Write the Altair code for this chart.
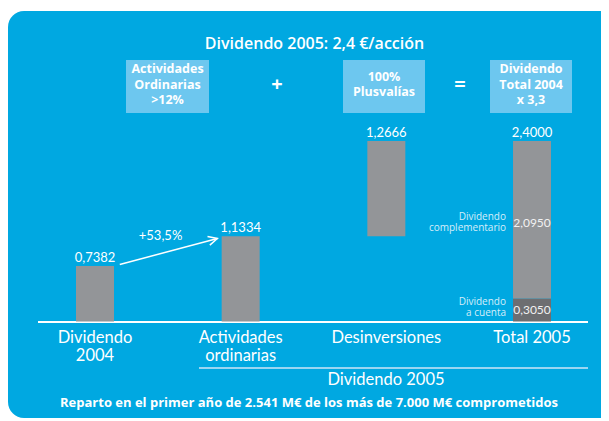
import math
import altair as alt
import pandas as pd

# ---------------- data ----------------
categories = ["Dividendo\n2004", "Actividades\nordinarias", "Desinversiones", "Total 2005"]
values = [0.7382, 1.1334, 1.2666, 2.4000]
total_parts = [0.3050, 2.0950]
part_names = ["Dividendo\na cuenta", "Dividendo\ncomplementario"]
growth_label = "+53,5%"
title_text = "Dividendo 2005: 2,4 €/acción"
box_labels = ["Actividades\nOrdinarias\n>12%", "100%\nPlusvalías", "Dividendo\nTotal 2004\nx 3,3"]
operators = ["+", "="]
group_label = "Dividendo 2005"
footer_text = "Reparto en el primer año de 2.541 M€ de los más de 7.000 M€ comprometidos"

# ---------------- layout / style ----------------
W, H = 593, 410
X_PER, Y_PER = 145.67, 75.21
X0, Y0 = 87, 313.5
HALF = 19 / X_PER
FONT = "Lato"
BFONT = "Open Sans"
BLUE = "#00A8E1"
BOX = "#6DC7EF"
GRAY = "#939598"
DARK = "#6D6E71"

xs = alt.Scale(domain=[-X0 / X_PER, (W - X0) / X_PER], nice=False, zero=False)
ys = alt.Scale(domain=[-(H - Y0) / Y_PER, Y0 / Y_PER], nice=False, zero=False)


def fmt(v):
    return f"{v:.4f}".replace(".", ",")


# bars (waterfall)
bars = pd.DataFrame({
    "idx": [0, 1, 2, 3, 3],
    "start": [0, 0, values[1], 0, total_parts[0]],
    "end": [values[0], values[1], values[1] + values[2], total_parts[0], total_parts[0] + total_parts[1]],
    "kind": ["g", "g", "g", "d", "g"],
})
bars["lo"] = bars["idx"] - HALF
bars["hi"] = bars["idx"] + HALF

tops = pd.DataFrame({
    "idx": [0, 1, 2, 3],
    "top": [values[0], values[1], values[1] + values[2], values[3]],
    "label": [fmt(v) for v in values],
})

parts = pd.DataFrame({
    "idx": [3, 3],
    "mid": [total_parts[0] / 2, total_parts[0] + total_parts[1] / 2],
    "label": [fmt(v) for v in total_parts],
    "name": part_names,
})
parts["left"] = parts["idx"] - HALF
name_dy = [-8, -3]
label_dy = [0, 3]

cats = pd.DataFrame({"idx": [0, 1, 2, 3], "cat": categories})

arrow = pd.DataFrame({
    "x": [0.17, 0.84],
    "y": [values[0] + 0.02, values[1] - 0.03],
})
dx_px = (arrow.x[1] - arrow.x[0]) * X_PER
dy_px = -(arrow.y[1] - arrow.y[0]) * Y_PER
ang = math.degrees(math.atan2(dy_px, dx_px)) % 360
arrow_tip = arrow.iloc[[1]]
growth = pd.DataFrame({"x": [0.45], "y": [values[1]], "t": [growth_label]})

one = pd.DataFrame({"k": [0]})

layers = []

# background panel
layers.append(alt.Chart(one).mark_rect(fill=BLUE, cornerRadius=16).encode(
    x=alt.value(0), x2=alt.value(W + 30), y=alt.value(3), y2=alt.value(410)))

# title
layers.append(alt.Chart(one).mark_text(font=BFONT, fontSize=16, fontWeight=600, color="white",
                                       baseline="middle", align="center").encode(
    x=alt.value(306.5), y=alt.value(36), text=alt.value(title_text)))

# boxes
LH = 15.5
box_x = [(118, 201), (335, 417), (482, 564)]
for (a, b), lab in zip(box_x, box_labels):
    n = lab.count("\n") + 1
    layers.append(alt.Chart(one).mark_rect(fill=BOX).encode(
        x=alt.value(a), x2=alt.value(b), y=alt.value(52), y2=alt.value(105)))
    layers.append(alt.Chart(one).mark_text(font=BFONT, fontSize=12.5, fontWeight="bold", color="white",
                                           lineBreak="\n", lineHeight=LH, baseline="middle",
                                           align="center").encode(
        x=alt.value((a + b) / 2), y=alt.value(76.5 - (n - 1) * LH / 2), text=alt.value(lab)))

for ox, op in zip([269, 452], operators):
    layers.append(alt.Chart(one).mark_text(font=BFONT, fontSize=20, fontWeight="bold", color="white",
                                           baseline="middle", align="center").encode(
        x=alt.value(ox), y=alt.value(77), text=alt.value(op)))

# baseline and group line
layers.append(alt.Chart(one).mark_rule(color="white", strokeWidth=2).encode(
    x=alt.value(30), x2=alt.value(580), y=alt.value(314)))
layers.append(alt.Chart(one).mark_rule(color="#9AD6F2", strokeWidth=2).encode(
    x=alt.value(191), x2=alt.value(580), y=alt.value(360)))
layers.append(alt.Chart(one).mark_text(font=FONT, fontSize=16.5, color="white",
                                       baseline="middle", align="center").encode(
    x=alt.value(378), y=alt.value(372), text=alt.value(group_label)))
layers.append(alt.Chart(one).mark_text(font=BFONT, fontSize=13, fontWeight="bold", color="white",
                                       baseline="middle", align="center").encode(
    x=alt.value(301), y=alt.value(395), text=alt.value(footer_text)))

# bars
layers.append(alt.Chart(bars).mark_rect().encode(
    x=alt.X("lo:Q", scale=xs, axis=None), x2="hi:Q",
    y=alt.Y("start:Q", scale=ys, axis=None), y2="end:Q",
    color=alt.Color("kind:N", scale=alt.Scale(domain=["g", "d"], range=[GRAY, DARK]), legend=None)))

# top value labels
layers.append(alt.Chart(tops).mark_text(font=FONT, fontSize=13, color="white", baseline="bottom",
                                        align="center", dy=-1).encode(
    x=alt.X("idx:Q", scale=xs), y=alt.Y("top:Q", scale=ys), text="label:N"))

# inner labels / side names of the total bar
for i in range(len(parts)):
    sub = parts.iloc[[i]]
    layers.append(alt.Chart(sub).mark_text(font=FONT, fontSize=12, color="#F2F2F2", baseline="middle",
                                           align="center", dy=label_dy[i]).encode(
        x=alt.X("idx:Q", scale=xs), y=alt.Y("mid:Q", scale=ys), text="label:N"))
    layers.append(alt.Chart(sub).mark_text(font=BFONT, fontSize=10, color="#D6EEFA",
                                           baseline="middle", align="right", dx=-7,
                                           dy=name_dy[i], lineBreak="\n",
                                           lineHeight=11).encode(
        x=alt.X("left:Q", scale=xs), y=alt.Y("mid:Q", scale=ys), text="name:N"))

# category labels
layers.append(alt.Chart(cats).mark_text(font=FONT, fontSize=16.5, color="white", baseline="top",
                                        align="center", lineBreak="\n", lineHeight=18).encode(
    x=alt.X("idx:Q", scale=xs), y=alt.value(322), text="cat:N"))

# arrow
layers.append(alt.Chart(arrow).mark_line(color="white", strokeWidth=1.5).encode(
    x=alt.X("x:Q", scale=xs), y=alt.Y("y:Q", scale=ys)))
layers.append(alt.Chart(arrow_tip).mark_point(shape="M-0.9,-0.45L0,0L-0.9,0.45", filled=False,
                                              stroke="white", strokeWidth=1.5, size=400,
                                              angle=ang, opacity=1).encode(
    x=alt.X("x:Q", scale=xs), y=alt.Y("y:Q", scale=ys)))
layers.append(alt.Chart(growth).mark_text(font=FONT, fontSize=13, color="white", baseline="middle",
                                          align="center").encode(
    x=alt.X("x:Q", scale=xs), y=alt.Y("y:Q", scale=ys), text="t:N"))

chart = alt.layer(*layers).properties(
    width=W, height=H, padding=0, autosize=alt.AutoSizeParams(type="none"), background="white"
).configure_view(strokeWidth=0)

chart.save("out.html", embed_options={"renderer": "svg", "actions": False})
